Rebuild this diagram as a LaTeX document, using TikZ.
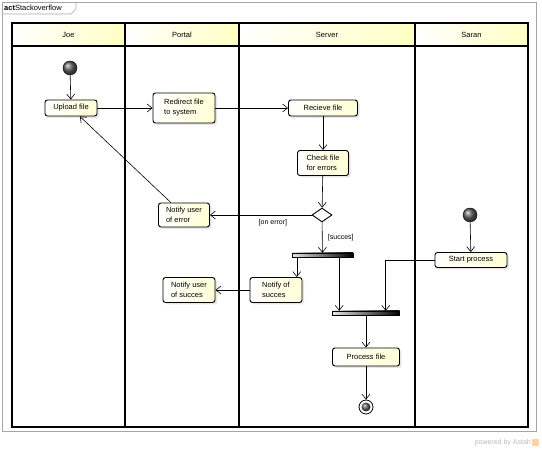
\documentclass[tikz,border=0pt]{standalone}
\usepackage{fontspec}
\setmainfont{Liberation Sans}
\usepackage{xcolor}
\usetikzlibrary{arrows.meta,positioning,shapes.geometric,shadows,calc}
\definecolor{headyellow}{RGB}{255,255,196}
\definecolor{boxyellow}{RGB}{255,255,214}

\begin{document}
\begin{tikzpicture}[
            x=1pt,y=-1pt,
            font=\fontsize{7.5}{10}\selectfont,
            box/.style={draw,rounded corners=2.5pt,align=left,line width=0.9pt,inner xsep=6pt,inner ysep=2pt,
                        left color=white,right color=boxyellow,
                        drop shadow={opacity=0.2,shadow xshift=2pt,shadow yshift=-2pt}},
            head/.style={left color=white,right color=headyellow,draw=none},
            lane/.style={draw,line width=1.3pt},
            bar/.style={draw,line width=0.4pt,left color=gray!20,right color=black,minimum height=4pt,inner sep=0pt},
            init/.style={circle,draw=black,line width=0.4pt,ball color=gray!75!black,minimum size=14pt,inner sep=0pt},
            guard/.style={font=\fontsize{7}{8}\selectfont},
            arrow/.style={-{Straight Barb[length=5pt,width=8pt]},line width=0.6pt}
        ]
            \useasboundingbox (0,0) rectangle (542,449);

            % frame with name tab
            \draw[gray!70,line width=0.6pt] (2,2) rectangle (536,431);
            \draw[gray!70,line width=0.6pt] (2,14) -- (71,14) -- (76,9) -- (76,2);
            \node[anchor=west,inner sep=1pt] (title) at (3,8) {\textbf{act}Stackoverflow};

            % swimlanes
            \foreach \l/\r/\name in {12/125/Joe,125/239/Portal,239/415/Server,415/528/Saran}{
                \shade[head] (\l,23) rectangle (\r,46);
                \node (h\name) at ({(\l+\r)/2},34.5) {\name};
            }
            \draw[lane] (12,23) rectangle (528,427);
            \draw[lane] (12,46) -- (528,46);
            \foreach \x in {125,239,415}
                \draw[lane] (\x,23) -- (\x,427);

            % Joe / Portal / Server
            \node[init] (joestart) at (70,68) {};
            \node[box,minimum width=52pt,minimum height=16pt,align=center] (upload) at (71,108) {Upload file};
            \node[box,minimum width=62pt,minimum height=30pt] (redirect) at (184,108) {Redirect file\\to system};
            \node[box,minimum width=69pt,minimum height=16pt,align=center] (receive) at (323,108) {Recieve file};
            \node[box,minimum width=51pt,minimum height=25pt] (check) at (323,163) {Check file\\for errors};
            \node[diamond,draw,line width=0.9pt,fill=white,minimum width=20pt,minimum height=14pt,inner sep=0pt] (decision) at (322,215) {};
            \node[box,minimum width=51pt,minimum height=24pt] (notifyerr) at (184,215) {Notify user\\of error};
            \node[bar,minimum width=61pt] (fork) at (322.5,255) {};
            \node[box,minimum width=52pt,minimum height=25pt] (notifyok) at (276,290) {Notify of\\succes};
            \node[box,minimum width=52pt,minimum height=25pt] (notifyuser) at (189,290) {Notify user\\of succes};
            \node[bar,minimum width=67pt] (join) at (366,313) {};
            \node[box,minimum width=67pt,minimum height=18pt,align=center] (process) at (366,357) {Process file};
            \node[circle,draw,line width=0.8pt,fill=white,minimum size=14pt,inner sep=0pt] (final) at (366,407) {};
            \node[circle,ball color=gray!75!black,minimum size=9pt,inner sep=0pt] (finaldot) at (final) {};

            % Saran
            \node[init] (saranstart) at (470,215) {};
            \node[box,minimum width=72pt,minimum height=15pt,align=center] (startproc) at (471,260) {Start process};

            \draw[arrow] (joestart) -- (upload);
            \draw[arrow] (upload) -- (redirect);
            \draw[arrow] (redirect) -- (receive);
            \draw[arrow] (receive) -- (check);
            \draw[arrow] (check) -- (decision);
            \draw[arrow] (decision) -- node[guard,below=1pt,pos=0.38]{[on error]} (notifyerr);
            \draw[arrow] (decision) -- node[guard,right=2pt]{[succes]} (fork);
            \draw[arrow] (notifyerr) -- (upload);
            \draw[arrow] ([xshift=5pt]fork.south west) -- ([xshift=5pt]fork.south west |- notifyok.north);
            \draw[arrow] ([xshift=-14pt]fork.south east) -- ([xshift=-14pt]fork.south east |- join.north);
            \draw[arrow] (notifyok) -- (notifyuser);
            \draw[arrow] (saranstart) -- (startproc);
            \draw[arrow] (startproc.west) -| ([xshift=-14pt]join.north east);
            \draw[arrow] (join) -- (process);
            \draw[arrow] (process) -- (final);

            % watermark
            \node[anchor=east,text=gray!55,font=\fontsize{7}{8}\selectfont,inner sep=0pt] (powered) at (531,443) {powered by Astah};
            \node[fill=orange!35,minimum size=7pt,inner sep=0pt] (logo) at (535,443) {};
        \end{tikzpicture}
\end{document}
